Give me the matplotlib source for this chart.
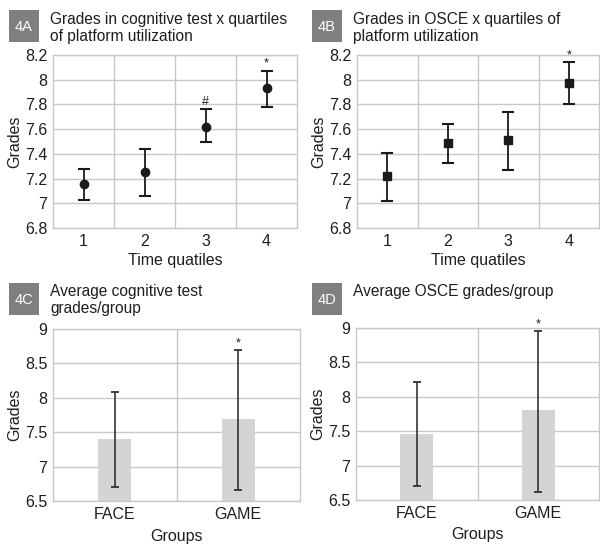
import matplotlib.pyplot as plt
from matplotlib.patches import Rectangle

plt.rcParams['font.family'] = ['Liberation Sans', 'DejaVu Sans']

quartiles = [1, 2, 3, 4]
cog_mean = [7.16, 7.25, 7.62, 7.93]
cog_low = [7.03, 7.06, 7.50, 7.78]
cog_high = [7.28, 7.44, 7.76, 8.07]
cog_marks = ['', '', '#', '*']

osce_mean = [7.22, 7.49, 7.51, 7.97]
osce_low = [7.02, 7.33, 7.27, 7.80]
osce_high = [7.41, 7.64, 7.74, 8.14]
osce_marks = ['', '', '', '*']

groups = ['FACE', 'GAME']
cog_grp = [7.40, 7.69]
cog_grp_low = [6.70, 6.66]
cog_grp_high = [8.08, 8.70]
cog_grp_marks = ['', '*']

osce_grp = [7.46, 7.81]
osce_grp_low = [6.70, 6.62]
osce_grp_high = [8.22, 8.96]
osce_grp_marks = ['', '*']

W, H = 600, 546
fig = plt.figure(figsize=(W / 100, H / 100), dpi=100)

GRID = '#c8c8c8'
TXT = '#1e1e1e'


def box(x0, x1, y0, y1):
    return fig.add_axes([x0 / W, 1 - y1 / H, (x1 - x0) / W, (y1 - y0) / H])


def style(ax):
    for s in ax.spines.values():
        s.set_color(GRID)
        s.set_linewidth(1)
    ax.tick_params(length=0, labelsize=11.5, colors=TXT, pad=4)
    ax.set_axisbelow(True)


def tag(x0, y0, label, lines, base):
    # grey label box, 30x32 px
    fig.patches.append(Rectangle((x0 / W, 1 - (y0 + 32) / H), 30 / W, 32 / H,
                                 transform=fig.transFigure, fc='#7f7f7f', ec='none'))
    fig.text((x0 + 15) / W, 1 - (y0 + 17) / H, label, fontsize=10.5, color='white',
             ha='center', va='center')
    for i, line in enumerate(lines):
        fig.text((x0 + 41) / W, 1 - (base + 17 * i) / H, line, fontsize=11.2, color=TXT,
                 ha='left', va='baseline')


def points(ax, mean, low, high, marks, marker):
    err = [[m - l for m, l in zip(mean, low)], [h - m for m, h in zip(mean, high)]]
    ax.errorbar(quartiles, mean, yerr=err, fmt=marker, color='#1a1a1a', ms=6,
                ecolor='#1a1a1a', elinewidth=1.3, capsize=4, capthick=1.5)
    for x, h, t in zip(quartiles, high, marks):
        if t:
            ax.text(x, h + 0.01, t, ha='center', va='bottom', fontsize=9, color=TXT)
    ax.set_xlim(0.5, 4.5)
    ax.set_ylim(6.8, 8.2)
    ax.set_xticks(quartiles)
    ax.set_yticks([6.8, 7.0, 7.2, 7.4, 7.6, 7.8, 8.0, 8.2])
    ax.set_yticklabels(['6.8', '7', '7.2', '7.4', '7.6', '7.8', '8', '8.2'])
    ax.set_xticks([1.5, 2.5, 3.5], minor=True)
    ax.tick_params(which='minor', length=0)
    ax.grid(True, which='major', axis='y', color=GRID, lw=1)
    ax.grid(True, which='minor', axis='x', color=GRID, lw=1)
    ax.set_xlabel('Time quatiles', fontsize=11.5, color=TXT, labelpad=3)
    ax.set_ylabel('Grades', fontsize=11.5, color=TXT, labelpad=2)
    style(ax)


def bars(ax, vals, low, high, marks):
    xs = range(len(groups))
    ax.bar(xs, [v - 6.5 for v in vals], bottom=6.5, width=0.27, color='#d4d4d6')
    err = [[v - l for v, l in zip(vals, low)], [h - v for v, h in zip(vals, high)]]
    ax.errorbar(xs, vals, yerr=err, fmt='none', ecolor='#333333', elinewidth=1.2,
                capsize=3, capthick=1.3)
    for x, h, t in zip(xs, high, marks):
        if t:
            ax.text(x, h + 0.01, t, ha='center', va='bottom', fontsize=9, color=TXT)
    ax.set_xlim(-0.5, 1.5)
    ax.set_ylim(6.5, 9)
    ax.set_xticks(list(xs))
    ax.set_xticklabels(groups)
    ax.set_yticks([6.5, 7, 7.5, 8, 8.5, 9])
    ax.set_yticklabels(['6.5', '7', '7.5', '8', '8.5', '9'])
    ax.set_xticks([0.5], minor=True)
    ax.tick_params(which='minor', length=0)
    ax.grid(True, which='major', axis='y', color=GRID, lw=1)
    ax.grid(True, which='minor', axis='x', color=GRID, lw=1)
    ax.set_xlabel('Groups', fontsize=11.5, color=TXT, labelpad=5)
    ax.set_ylabel('Grades', fontsize=11.5, color=TXT, labelpad=2)
    style(ax)


axA = box(53, 297, 55, 228)
points(axA, cog_mean, cog_low, cog_high, cog_marks, 'o')
tag(9, 10, '4A', ['Grades in cognitive test x quartiles', 'of platform utilization'], 24)

axB = box(357, 599, 55, 228)
points(axB, osce_mean, osce_low, osce_high, osce_marks, 's')
tag(312, 10, '4B', ['Grades in OSCE x quartiles of', 'platform utilization'], 24)

axC = box(53, 300, 329, 501)
bars(axC, cog_grp, cog_grp_low, cog_grp_high, cog_grp_marks)
tag(9, 283, '4C', ['Average cognitive test', 'grades/group'], 296)

axD = box(356, 599, 328, 500)
bars(axD, osce_grp, osce_grp_low, osce_grp_high, osce_grp_marks)
tag(312, 283, '4D', ['Average OSCE grades/group'], 296)

fig.savefig('out.png', dpi=100)
